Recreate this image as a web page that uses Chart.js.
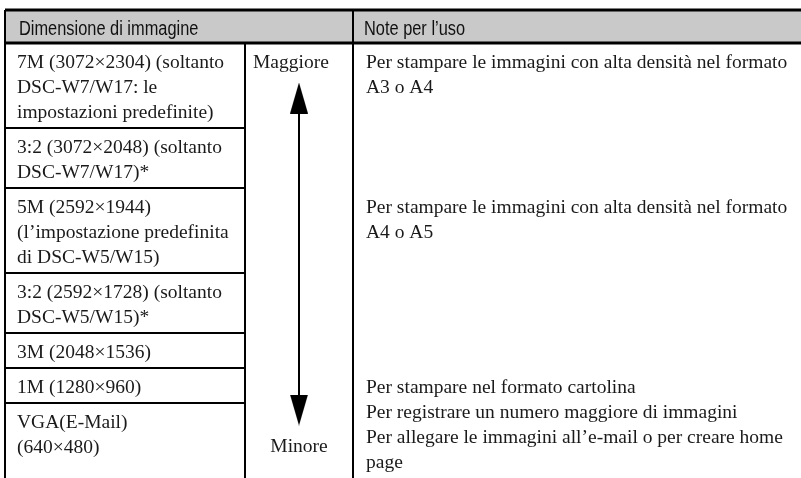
<!DOCTYPE html>
<html>
<head>
<meta charset="utf-8">
<script src="https://cdn.jsdelivr.net/npm/chart.js@4.4.1/dist/chart.umd.min.js"></script>
<style>
    html, body { margin: 0; padding: 0; background: #ffffff; }
    #tableChart { display: block; }
</style>
</head>
<body>
<canvas id="tableChart" width="801" height="478"></canvas>
<script>
// table content
const headers = ['Dimensione di immagine', 'Note per l’uso'];

const sizes = [
    ['7M (3072×2304) (soltanto', 'DSC-W7/W17: le', 'impostazioni predefinite)'],
    ['3:2 (3072×2048) (soltanto', 'DSC-W7/W17)*'],
    ['5M (2592×1944)', '(l’impostazione predefinita', 'di DSC-W5/W15)'],
    ['3:2 (2592×1728) (soltanto', 'DSC-W5/W15)*'],
    ['3M (2048×1536)'],
    ['1M (1280×960)'],
    ['VGA(E-Mail)', '(640×480)']
];

const scaleEnds = ['Maggiore', 'Minore'];

const notes = [
    ['Per stampare le immagini con alta densità nel formato', 'A3 o A4'],
    [],
    ['Per stampare le immagini con alta densità nel formato', 'A4 o A5'],
    [],
    [],
    ['Per stampare nel formato cartolina', 'Per registrare un numero maggiore di immagini',
        'Per allegare le immagini all’e-mail o per creare home', 'page'],
    []
];

// layout (page pixels, used as scale values)
const W = 801, H = 478;
const colX = [5, 245, 353, W];
const headTop = 10, headBottom = 43;
const lineH = 25, rowPad = 10;
const textPad = 12;

// row edges come from the number of text lines in each row
const rowY = [headBottom];
sizes.forEach(function (lines, i) {
    if (i < sizes.length - 1) rowY.push(rowY[i] + lines.length * lineH + rowPad);
});
rowY.push(H);

function segs(list) {
    const out = [];
    list.forEach(function (s) {
        out.push({x: s[0], y: s[1]}, {x: s[2], y: s[3]}, {x: s[2], y: null});
    });
    return out;
}

const thin = [
    [colX[0], headTop, colX[0], H],
    [colX[1], headBottom, colX[1], H],
    [colX[2], headTop, colX[2], H]
];
for (let i = 1; i < rowY.length - 1; i++) {
    thin.push([colX[0], rowY[i], colX[1], rowY[i]]);
}
const thick = [
    [colX[0], headTop, W, headTop],
    [colX[0], headBottom, W, headBottom]
];

// arrow head as image point style
const head = document.createElement('canvas');
head.width = 18; head.height = 31;
const hc = head.getContext('2d');
hc.fillStyle = '#000';
hc.beginPath();
hc.moveTo(9, 0); hc.lineTo(18, 31); hc.lineTo(0, 31); hc.closePath();
hc.fill();

const arrowX = (colX[1] + colX[2]) / 2;

const textPlugin = {
    id: 'tableText',
    afterDatasetsDraw: function (chart) {
        const ctx = chart.ctx;
        const xs = chart.scales.x, ys = chart.scales.y;
        ctx.save();
        ctx.textBaseline = 'alphabetic';

        // condensed header face: squeeze a sans horizontally
        ctx.fillStyle = '#111';
        ctx.font = '19.5px "Liberation Sans", Arial, sans-serif';
        ctx.textAlign = 'left';
        const squeeze = 0.84;
        [[headers[0], colX[0] + textPad + 2], [headers[1], colX[2] + textPad - 1]].forEach(function (h) {
            ctx.save();
            ctx.translate(xs.getPixelForValue(h[1]), ys.getPixelForValue(headTop + 25));
            ctx.scale(squeeze, 1);
            ctx.fillText(h[0], 0, 0);
            ctx.restore();
        });

        ctx.font = '19.5px "Liberation Serif", "Times New Roman", serif';
        ctx.fillStyle = '#1a1a1a';
        sizes.forEach(function (lines, i) {
            lines.forEach(function (t, j) {
                ctx.fillText(t, xs.getPixelForValue(colX[0] + textPad), ys.getPixelForValue(rowY[i] + 25 + j * lineH));
            });
        });
        notes.forEach(function (lines, i) {
            lines.forEach(function (t, j) {
                ctx.fillText(t, xs.getPixelForValue(colX[2] + textPad + 1), ys.getPixelForValue(rowY[i] + 25 + j * lineH));
            });
        });
        ctx.fillText(scaleEnds[0], xs.getPixelForValue(colX[1] + 8), ys.getPixelForValue(rowY[0] + 25));
        ctx.textAlign = 'center';
        ctx.fillText(scaleEnds[1], xs.getPixelForValue(arrowX), ys.getPixelForValue(452));
        ctx.restore();
    }
};

const config = {
    type: 'scatter',
    data: {
        datasets: [
            {
                label: 'thick',
                data: segs(thick),
                showLine: true,
                borderColor: '#000',
                borderWidth: 3,
                pointRadius: 0,
                order: 1
            },
            {
                label: 'thin',
                data: segs(thin),
                showLine: true,
                borderColor: '#000',
                borderWidth: 2,
                pointRadius: 0,
                order: 2
            },
            {
                label: 'arrow',
                data: [{x: arrowX, y: 98}, {x: arrowX, y: 410}],
                showLine: true,
                borderColor: '#000',
                borderWidth: 2,
                pointStyle: head,
                pointRadius: 10,
                rotation: [0, 180],
                order: 3
            },
            {
                label: 'headTop',
                data: [{x: colX[0], y: headTop}, {x: W, y: headTop}],
                showLine: true,
                borderWidth: 0,
                pointRadius: 0,
                backgroundColor: '#c9c9c9',
                fill: '+1',
                order: 10
            },
            {
                label: 'headBottom',
                data: [{x: colX[0], y: headBottom}, {x: W, y: headBottom}],
                showLine: true,
                borderWidth: 0,
                pointRadius: 0,
                order: 11
            }
        ]
    },
    options: {
        responsive: false,
        animation: false,
        devicePixelRatio: 1,
        layout: { padding: 0, autoPadding: false },
        plugins: {
            legend: { display: false },
            tooltip: { enabled: false }
        },
        scales: {
            x: { type: 'linear', min: 0, max: W, display: false },
            y: { type: 'linear', min: 0, max: H, reverse: true, display: false }
        }
    },
    plugins: [textPlugin]
};

const tableChart = new Chart(document.getElementById('tableChart'), config);
</script>
</body>
</html>
